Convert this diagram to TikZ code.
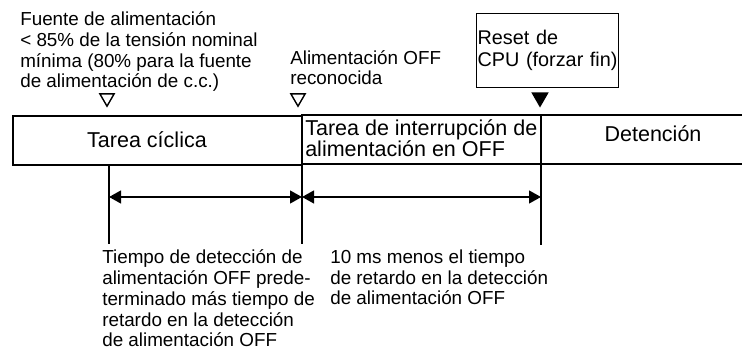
\documentclass[tikz,border=0pt]{standalone}
\usepackage{fontspec}
\setmainfont{Liberation Sans}
\usetikzlibrary{arrows.meta,shapes.geometric}
\begin{document}
\begin{tikzpicture}[x=0.025cm,y=-0.025cm,
  lbl/.style={inner sep=0pt,anchor=base west,align=left,font=\fontsize{13.4}{14.9}\selectfont},
  barlbl/.style={inner sep=0pt,anchor=base,align=left,font=\fontsize{15.3}{14.2}\selectfont},
  tri/.style={regular polygon,regular polygon sides=3,shape border rotate=180,inner sep=0pt,minimum size=0.41cm,draw,line width=1pt},
  dimarrow/.style={{Triangle[length=0.3cm,width=0.32cm]}-{Triangle[length=0.3cm,width=0.32cm]},line width=1.3pt},
  guide/.style={line width=0.8pt}]
  \useasboundingbox (0,0) rectangle (742,352);
  \node[lbl] (supply) at (20,88) {Fuente de alimentación\\< 85\% de la tensión nominal\\mínima (80\% para la fuente\\de alimentación de c.c.)};
  \node[lbl] (offrec) at (290,85) {Alimentación OFF\\reconocida};
  \node[draw,line width=0.6pt,anchor=north west,text width=3.5cm,minimum height=1.85cm,inner xsep=0.03cm,align=left,font=\fontsize{14.1}{15.2}\selectfont] (reset) at (476,13) {Reset de\\CPU (forzar fin)};
  \node[tri] (pfail) at (107,98) {};
  \node[tri] (prec) at (298,98) {};
  \node[tri,fill,minimum size=0.43cm] (prst) at (540,97.5) {};
  \draw[line width=1.4pt] (13,116) rectangle (302,165);
  \draw[line width=0.9pt] (302,115) rectangle (541,164);
  \draw[line width=1.1pt] (541,115) -- (742,115) (541,164) -- (742,164);
  \node[barlbl] (cyclbl) at (147,148) {Tarea cíclica};
  \node[barlbl,anchor=base west] (intlbl) at (305,157) {Tarea de interrupción de\\alimentación en OFF};
  \node[barlbl] (stoplbl) at (653,142) {Detención};
  \coordinate (g1t) at (109,165);
  \coordinate (g1b) at (109,244);
  \coordinate (g2t) at (302,165);
  \coordinate (g2b) at (302,244);
  \coordinate (g3t) at (541,164);
  \coordinate (g3b) at (541,245);
  \draw[guide] (g1t) -- (g1b);
  \draw[guide] (g2t) -- (g2b);
  \draw[guide] (g3t) -- (g3b);
  \coordinate (a1) at (109,197);
  \coordinate (a2) at (302,197);
  \coordinate (a3) at (541,197);
  \draw[dimarrow] (a1) -- (a2);
  \draw[dimarrow] (a2) -- (a3);
  \node[lbl] (detect) at (102,347) {Tiempo de detección de\\alimentación OFF prede-\\terminado más tiempo de\\retardo en la detección\\de alimentación OFF};
  \node[lbl] (remain) at (330,305) {10 ms menos el tiempo\\de retardo en la detección\\de alimentación OFF};
\end{tikzpicture}
\end{document}
